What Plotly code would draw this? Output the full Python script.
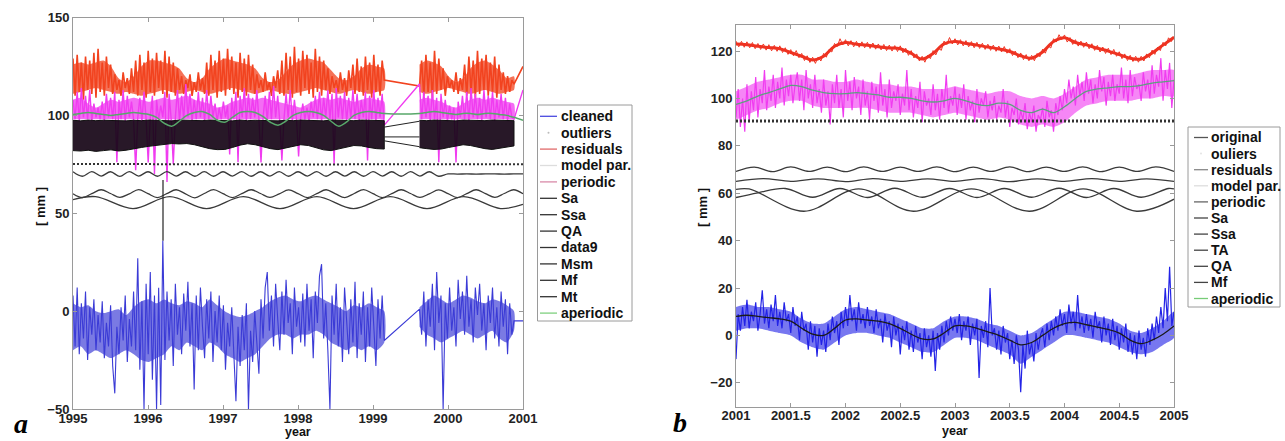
"""
Decomposition of a tide-gauge style series: panel a (1995-2001) and panel b (2001-2005).
Components are stacked with offsets, as in the original figure.
"""
import numpy as np
import plotly.graph_objects as go

W, H = 1285, 441

# ---------------- panel a data (mm) ----------------
A_SEG1_SPAN = (1995.0, 1999.15)
A_SEG2_SPAN = (1999.62, 2000.88)
A_END_YEAR = 2001.0

A_CLEANED_1 = [
    8, -18, 12, -22, 4, -14, 10, -25, 2, -12,
    6, -20, -2, -16, 5, -24, -6, -18, 3, -28,
    -42, -8, -22, 2, -15, 8, -26, -4, -18, 10,
    -20, 27, -30, 5, -50, 14, -22, 20, -35, 8,
    -50, 12, -48, 36, -25, 10, -15, 6, -28, 14,
    -12, 2, -22, 9, -10, 15, -18, 4, -40, 8,
    -20, 12, -8, -24, 6, -14, 10, -26, 0, -16,
    8, -20, 3, -30, -6, -18, 2, -24, -46, -8,
    -28, -2, -20, 4, -50, -10, -26, 0, -16, -32,
    6, -14, 12, 20, -10, 8, -18, 14, -4, -20,
    10, -12, 16, -6, 4, -22, 12, -8, 2, -16,
    9, -18, 14, -10, 6, -24, 10, -6, 18, 24,
    -14, 4, -20, -50, 8, -12, 14, -18, 2, -26,
    12, -8, -22, 6, -16, 15, -24, 4, -12, 10,
    -26, 2, -18, 12, -10, -28, 6, -14, 8, -15,
]
A_CLEANED_2 = [
    1, -12, 10, -18, 6, -8, 14, -20, 20, -6,
    8, -50, 4, -14, 12, -10, 2, -18, 16, -4,
    10, -12, 18, -8, 6, -16, 12, -2, 14, -10,
    4, -20, 8, -6, 12, -14, 2, -18, 10, -8,
    6, -22, 4, -12, -5,
]
A_CLEANED_END = -5
# dense core of the cleaned series (roughly 0.1 yr steps)
A_CLEANED_CORE_TOP_1 = [4, 2, 3, 0, -1, 0, 1, -2, 2, 5, 6, 4, 6, 4, 3, 5, 4, 2, 6, 3,
                        0, -2, -3, -2, 0, 2, 5, 7, 8, 6, 5, 7, 8, 6, 4, 2, 0, 3, 2, 4, 2, 0]
A_CLEANED_CORE_BOT_1 = [-20, -18, -22, -20, -22, -24, -22, -20, -22, -25, -26, -24, -22, -18,
                        -20, -16, -18, -20, -16, -18, -22, -24, -26, -24, -22, -18, -14, -12,
                        -12, -14, -12, -12, -10, -12, -16, -18, -20, -18, -20, -18, -20, -16]
A_CLEANED_CORE_TOP_2 = [2, 5, 8, 6, 4, 6, 8, 7, 5, 4, 6, 5, 3, 0]
A_CLEANED_CORE_BOT_2 = [-8, -12, -14, -16, -14, -12, -10, -12, -14, -12, -10, -14, -16, -10]

A_RESID_1 = [
    129, 110, 131, 112, 127, 108, 130, 113, 128, 111,
    132, 109, 134, 112, 127, 110, 130, 114, 126, 111,
    121, 113, 118, 110, 122, 114, 119, 111, 124, 112,
    128, 110, 131, 113, 127, 109, 133, 112, 129, 110,
    132, 114, 128, 111, 133, 109, 130, 112, 127, 110,
    124, 113, 120, 111, 118, 114, 121, 110, 117, 112,
    122, 113, 119, 111, 127, 110, 131, 113, 128, 109,
    133, 112, 129, 110, 134, 113, 130, 111, 127, 109,
    132, 112, 129, 110, 131, 113, 126, 111, 121, 114,
    118, 112, 122, 113, 117, 110, 120, 114, 123, 111,
    128, 110, 132, 113, 130, 109, 135, 112, 129, 110,
    133, 114, 131, 111, 127, 109, 134, 112, 130, 110,
    128, 113, 124, 111, 120, 114, 118, 112, 122, 113,
    119, 110, 123, 114, 126, 111, 129, 112, 125, 110,
    130, 113, 127, 109, 131, 112, 126, 110, 128, 118,
]
A_RESID_2 = [
    115, 128, 110, 131, 112, 127, 109, 133, 111, 129,
    113, 124, 110, 120, 114, 118, 112, 122, 111, 119,
    113, 126, 110, 130, 112, 128, 109, 133, 111, 129,
    113, 131, 110, 127, 112, 130, 109, 126, 113, 122,
    111, 120, 112, 118, 116,
]
A_RESID_END = 125
A_RESID_CORE_TOP_1 = [126, 127, 126, 127, 128, 125, 119, 117, 120, 125, 128, 128, 127, 126,
                      124, 119, 117, 119, 124, 127, 129, 128, 127, 126, 124, 119, 117, 118,
                      122, 126, 128, 129, 128, 127, 123, 119, 118, 120, 124, 126, 125, 124]
A_RESID_CORE_BOT_1 = [111, 112, 113, 114, 113, 112, 111, 112, 111, 110, 111, 112, 113, 112,
                      111, 112, 113, 112, 111, 112, 113, 114, 113, 112, 111, 112, 113, 112,
                      111, 111, 112, 113, 114, 113, 112, 111, 112, 113, 112, 111, 112, 113]
A_RESID_CORE_TOP_2 = [126, 128, 127, 125, 120, 117, 119, 124, 127, 128, 126, 123, 119, 120]
A_RESID_CORE_BOT_2 = [112, 111, 112, 113, 114, 113, 112, 111, 112, 113, 112, 111, 112, 113]

A_PERIODIC_1 = [
    108, 98, 112, 97, 114, 99, 110, 98, 113, 97,
    106, 99, 104, 98, 107, 97, 111, 99, 109, 98,
    112, 76, 108, 98, 113, 97, 110, 99, 107, 98,
    72, 99, 109, 97, 112, 98, 76, 99, 110, 70,
    108, 98, 105, 99, 112, 66, 111, 98, 75, 99,
    113, 97, 110, 98, 116, 99, 111, 97, 108, 98,
    112, 99, 109, 97, 113, 98, 110, 99, 106, 97,
    104, 98, 107, 99, 105, 80, 109, 98, 112, 76,
    110, 99, 114, 97, 111, 98, 109, 99, 113, 98,
    76, 99, 110, 97, 112, 98, 115, 99, 110, 97,
    77, 98, 111, 99, 113, 97, 108, 98, 79, 99,
    106, 98, 104, 97, 107, 99, 110, 98, 112, 97,
    109, 99, 113, 98, 111, 75, 114, 99, 110, 98,
    112, 97, 109, 99, 113, 98, 111, 97, 108, 99,
    112, 77, 110, 98, 113, 97, 109, 99, 111, 95,
]
A_PERIODIC_2 = [
    116, 98, 112, 99, 110, 97, 113, 98, 109, 76,
    111, 99, 108, 97, 105, 98, 104, 76, 107, 99,
    110, 98, 112, 97, 114, 99, 111, 98, 109, 97,
    113, 99, 110, 98, 112, 97, 108, 99, 111, 98,
    109, 97, 106, 99, 98,
]
A_PERIODIC_END = 113
A_PERIODIC_CORE_TOP_1 = [108, 109, 106, 104, 106, 108, 107, 108, 109, 108, 107, 108, 109, 108,
                         109, 110, 108, 107, 106, 104, 105, 107, 108, 109, 108, 109, 108, 107,
                         106, 105, 104, 106, 108, 109, 108, 109, 108, 107, 108, 109, 108, 107]
A_PERIODIC_CORE_BOT_1 = [98, 98, 98, 98, 98, 98, 98, 98, 98, 98, 98, 98, 98, 98,
                         98, 98, 98, 98, 98, 98, 98, 98, 98, 98, 98, 98, 98, 98,
                         98, 98, 98, 98, 98, 98, 98, 98, 98, 98, 98, 98, 98, 98]
A_PERIODIC_CORE_TOP_2 = [108, 109, 108, 107, 105, 104, 106, 108, 109, 108, 109, 108, 107, 106]
A_PERIODIC_CORE_BOT_2 = [98, 98, 98, 98, 98, 98, 98, 98, 98, 98, 98, 98, 98, 98]

# dense short-period band (Mt etc.), upper and lower envelope
A_BAND_TOP_1 = [
    97.5, 97.2, 97.6, 97.3, 97.5, 97.4, 97.6, 97.2, 97.5, 97.3,
    97.6, 97.4, 97.5, 97.2, 97.6, 97.4, 97.5, 97.3, 97.6, 97.5,
    97.4, 97.2, 97.6, 97.3, 97.5, 97.4, 97.6, 97.2, 97.5, 97.3,
    97.6, 97.4, 97.5, 97.2, 97.6, 97.4, 97.5, 97.3, 97.6, 97.5,
    97.4, 97.3,
]
A_BAND_BOT_1 = [
    82.0, 81.8, 82.2, 81.6, 82.0, 82.4, 81.8, 82.2, 82.8, 83.6,
    84.2, 84.6, 85.2, 85.6, 85.4, 85.6, 85.0, 84.0, 83.0, 82.5,
    82.6, 83.6, 84.8, 85.5, 85.0, 84.0, 83.0, 82.5, 83.2, 84.2,
    85.0, 84.6, 83.6, 82.4, 82.0, 82.8, 83.8, 84.6, 84.4, 83.6,
    83.0, 82.8,
]
A_BAND_TOP_2 = [97.5, 97.3, 97.6, 97.4, 97.5, 97.2, 97.6, 97.4, 97.5, 97.3, 97.6, 97.4, 97.5, 97.3]
A_BAND_BOT_2 = [83.5, 83.0, 82.6, 82.8, 83.6, 84.4, 85.0, 84.6, 83.8, 83.0, 82.6, 83.0, 83.8, 84.4]
A_GAP_LEFT = [94, 87, 89]
A_GAP_RIGHT = [97, 84, 89]

A_APERIODIC_1 = [
    100.5, 101, 101.5, 101, 100.5, 100, 100.5, 101, 101.5, 101,
    100.5, 99, 96, 94.5, 97, 100, 101.5, 102, 100.5, 97.5,
    96.5, 99, 101.5, 102, 101.5, 99.5, 96.5, 95, 97, 100,
    101.5, 102, 101.5, 100, 97, 94.5, 96.5, 100, 101.5, 102,
    101.5, 101,
]
A_APERIODIC_2 = [101, 101.5, 102, 101.5, 101, 100.5, 101, 101, 100.5, 101, 101, 100.5, 100, 99]
A_APERIODIC_END = 97.5

A_MF = [75.2, 75.0, 75.1, 74.9, 75.0, 75.1, 75.0]
A_QA = [
    71.2, 68.9, 71.3, 69.0, 71.2, 68.8, 71.3, 69.0, 71.2, 68.9,
    71.3, 69.0, 71.2, 68.9, 71.3, 68.9, 71.2, 69.0, 71.3, 68.9,
    71.2, 69.0, 71.3, 68.9, 71.2, 69.0, 71.3, 68.9, 71.2, 69.0,
    71.2, 68.9, 71.3, 69.0, 71.2, 68.9, 71.3, 69.0, 71.2, 68.9,
    70.1, 70.0, 70.1, 70.0, 70.1, 70.1, 70.0, 70.1, 70.1,
]
A_SSA = [
    60.0, 58.0, 60.0, 62.0, 60.1, 58.1, 59.9, 62.1, 60.0, 58.0,
    60.0, 62.0, 59.9, 57.9, 60.1, 62.1, 60.0, 58.0, 60.0, 62.0,
    60.1, 58.1, 59.9, 61.9, 60.0, 58.0, 60.0, 62.0, 59.9, 58.0,
    60.1, 62.1, 60.0, 58.0, 60.0, 62.0, 60.1, 58.1, 59.9, 61.9,
    60.0, 58.0, 60.0, 62.0, 60.0, 58.1, 60.1, 62.0, 60.0,
]
A_SA_YEARS = [1995.0, 1995.3, 1995.8, 1996.29, 1996.78, 1997.27, 1997.76, 1998.25,
              1998.74, 1999.23, 1999.72, 2000.21, 2000.7, 2001.0]
A_SA = [57.0, 58.5, 52.4, 58.5, 52.4, 58.5, 52.4, 58.5, 52.4, 58.5, 52.4, 58.5, 52.4, 54.5]
A_OUTLIER_YEAR = 1996.2
A_OUTLIER_SPAN = [67, 36]

A_LEGEND = ["cleaned", "outliers", "residuals", "model par.", "periodic", "Sa", "Ssa",
            "QA", "data9", "Msm", "Mf", "Mt", "aperiodic"]

# ---------------- panel b data (mm) ----------------
B_SPAN = (2001.0, 2005.0)

B_ORIGINAL = [
    -10, 9, 2, 12, 4, 15, 3, 10, 6, 14, 2, 9, 19, 5, 11, 3, 13, 6, 17, 4,
    10, 3, 14, 6, 9, 1, 12, 4, 8, -2, 10, 2, 5, -6, 6, -3, 4, -9, 3, -4,
    2, -7, 5, -2, 8, 1, 6, -4, 10, 3, 12, 4, 17, 6, 11, 2, 14, 5, 9, 3,
    12, 4, 8, 1, 11, 3, 7, -3, 9, 2, 6, -5, 8, 0, 5, -8, 4, -2, 6, -6,
    2, -7, 4, -3, 1, -10, 3, -5, 0, -9, 2, -15, 1, -6, 4, -3, 6, 0, 8, 2,
    7, 1, 9, -2, 6, 2, 8, -4, 5, 0, 7, -18, 4, -1, 6, -5, 20, 0, 3, -6,
    2, -8, 4, -3, 1, -10, -2, -12, 0, -6, -24, -4, -14, 2, -8, -3, -11, 1, -6, 0,
    3, -5, 5, -2, 6, 0, 8, 2, 11, 4, 9, 1, 13, 5, 10, 2, 17, 3, 8, 1,
    9, 2, 7, -1, 10, 3, 6, -3, 8, 0, 5, -4, 7, -2, 4, -6, 3, -3, 5, -7,
    1, -8, 0, -10, 2, -6, -1, -9, 3, -4, 5, -2, 8, 1, 12, 3, 20, 6, 29, 4,
    10,
]
B_ORIGINAL_CORE_TOP = [12, 13, 12, 12, 11, 10, 7, 5, 5, 8, 11, 12, 11, 10, 9, 7, 5, 3, 3, 6,
                       8, 8, 7, 5, 4, 2, 0, 1, 4, 7, 10, 10, 9, 8, 7, 5, 2, 1, 3, 6, 10]
B_ORIGINAL_CORE_BOT = [2, 3, 3, 2, 1, 0, -3, -5, -6, -3, 0, 1, 1, 0, -1, -3, -5, -7, -7, -4,
                       -1, -1, -2, -4, -6, -8, -12, -9, -6, -3, 0, 0, -1, -2, -3, -5, -7, -8,
                       -7, -4, -1]
B_MODEL = [
    8, 8.5, 8, 7.5, 7, 6, 3, 0.5, 0, 3,
    6.5, 7, 6.5, 6, 5, 3, 0.5, -1.5, -1.5, 1,
    4, 4, 3, 1.5, 0, -2, -4, -3, 0, 3,
    5, 5.5, 4.5, 3.5, 2.5, 1, -2, -3.5, -2, 0.5,
    4,
]
B_PERIODIC = [
    92, 104, 88, 100, 86, 106, 90, 103, 95, 109, 92, 104, 98, 112, 95, 105, 99, 110, 96, 107,
    100, 113, 97, 108, 101, 110, 98, 106, 111, 99, 108, 95, 112, 100, 106, 96, 110, 98, 104, 94,
    108, 97, 103, 89, 106, 98, 110, 96, 104, 92, 112, 99, 107, 95, 109, 100, 105, 93, 108, 97,
    103, 91, 107, 99, 105, 94, 111, 97, 104, 92, 108, 96, 103, 99, 106, 93, 102, 97, 112, 95,
    104, 92, 101, 96, 107, 90, 103, 97, 100, 93, 106, 95, 102, 91, 104, 96, 110, 94, 101, 97,
    105, 93, 102, 96, 106, 91, 101, 95, 99, 90, 104, 94, 100, 97, 103, 92, 99, 95, 101, 91,
    97, 94, 104, 92, 99, 88, 96, 93, 100, 89, 95, 91, 98, 87, 94, 90, 97, 86, 93, 91,
    96, 88, 99, 92, 95, 86, 98, 93, 101, 95, 104, 98, 108, 100, 105, 97, 110, 101, 107, 99,
    111, 102, 108, 98, 106, 100, 112, 103, 109, 97, 107, 101, 110, 99, 106, 102, 113, 100, 108, 98,
    112, 101, 109, 104, 106, 99, 111, 103, 108, 100, 114, 102, 110, 105, 117, 99, 112, 104, 115, 96,
    108,
]
B_PERIODIC_CORE_TOP = [103, 105, 107, 108, 109, 110, 110, 108, 108, 107, 107, 108, 107, 106,
                       106, 105, 105, 104, 104, 104, 105, 104, 103, 102, 103, 103, 101, 100,
                       101, 100, 102, 105, 108, 109, 110, 110, 110, 111, 112, 112, 112]
B_PERIODIC_CORE_BOT = [91, 93, 95, 96, 98, 99, 99, 97, 96, 96, 96, 96, 96, 95, 94, 94, 94, 93,
                       92, 93, 94, 93, 92, 91, 92, 91, 89, 88, 89, 88, 90, 94, 97, 98, 99, 99,
                       99, 100, 100, 101, 101]
B_APERIODIC = [
    97.5, 99, 101, 102.5, 104, 105.5, 105, 103.5, 102.5, 102,
    102, 102.5, 102, 101.5, 100.5, 100.5, 100, 99, 98.5, 99,
    100, 99, 97.5, 97, 98, 97.5, 95, 94, 95.5, 94,
    96.5, 100, 103, 104, 104.5, 105, 105, 105.5, 106.5, 107,
    107.5,
]
B_RESID = [
    124.2, 121.8, 124.1, 121.6, 123.9, 121.4, 123.6, 121.0, 123.2, 120.7,
    123.0, 120.4, 122.7, 120.1, 122.4, 119.9, 122.2, 119.4, 121.4, 118.6,
    120.6, 118.0, 120.2, 117.2, 119.0, 116.0, 118.0, 115.2, 117.4, 114.8,
    117.5, 115.8, 119.0, 117.4, 120.7, 119.6, 123.2, 122.0, 125.2, 122.6,
    124.8, 122.2, 124.4, 121.8, 124.1, 121.6, 123.9, 121.4, 123.7, 121.1,
    123.4, 120.8, 123.0, 120.5, 122.8, 120.2, 122.5, 120.0, 122.3, 119.8,
    122.2, 119.3, 121.2, 118.2, 120.2, 117.1, 118.8, 115.8, 117.8, 115.3,
    118.2, 116.8, 120.2, 118.4, 121.2, 120.3, 124.2, 122.8, 125.7, 123.0,
    125.2, 122.6, 124.8, 122.2, 124.4, 121.8, 124.0, 121.4, 123.7, 121.1,
    123.3, 120.7, 122.9, 120.3, 122.5, 119.9, 122.1, 119.6, 121.9, 119.1,
    121.0, 118.1, 120.0, 117.2, 119.2, 116.4, 118.5, 115.9, 118.2, 115.9,
    119.0, 117.6, 120.8, 119.1, 122.2, 121.3, 125.2, 123.8, 126.9, 124.8,
    126.8, 123.8, 125.7, 122.8, 124.8, 122.1, 124.2, 121.6, 123.8, 121.0,
    123.1, 120.3, 122.4, 119.6, 121.7, 119.0, 121.2, 118.5, 120.7, 117.8,
    119.7, 116.8, 118.8, 116.0, 118.2, 115.6, 117.8, 115.3, 117.8, 115.8,
    118.8, 117.2, 120.4, 118.6, 121.6, 120.2, 123.7, 122.2, 125.6, 124.0,
    126.2,
]
# slow part of the residual curve (0.1 yr steps)
B_RESID_SMOOTH = [
    123.0, 122.7, 122.0, 121.5, 121.0, 119.4, 117.8, 116.2, 117.8, 122.0,
    123.6, 122.9, 122.5, 121.8, 121.3, 121.0, 119.0, 116.6, 119.0, 123.0,
    124.0, 123.2, 122.5, 121.7, 120.9, 119.8, 118.0, 117.0, 119.6, 124.0,
    125.6, 123.6, 122.6, 121.2, 120.0, 118.5, 117.0, 116.6, 119.2, 122.5,
    125.8,
]
B_MF = [90.5, 90.4, 90.6, 90.5, 90.5]
B_TA = [69.2, 71.0, 69.1, 71.1, 69.2, 71.0, 69.1, 71.1, 69.2, 71.0, 69.2, 71.1, 69.1,
        71.0, 69.2, 71.1, 69.1, 71.0, 69.2, 71.1, 69.1, 71.0, 69.2, 71.1, 69.2]
B_QA = [65.0, 66.2, 65.0, 66.1, 64.9, 66.2, 65.0, 66.1, 65.0, 66.2, 64.9, 66.1, 65.0, 66.2, 65.0, 66.1, 65.0]
B_SSA_YEARS = [2001.0, 2001.2, 2001.45, 2001.7, 2001.95, 2002.2, 2002.45, 2002.7, 2002.95,
               2003.2, 2003.45, 2003.7, 2003.95, 2004.2, 2004.45, 2004.7, 2004.95, 2005.0]
B_SSA = [58.2, 60.2, 62.0, 58.3, 62.0, 58.2, 62.1, 58.3, 62.0, 58.2, 62.0, 58.3, 62.1,
         58.2, 62.0, 58.3, 62.0, 61.8]
B_SA_YEARS = [2001.0, 2001.12, 2001.62, 2002.12, 2002.62, 2003.15, 2003.68, 2004.17, 2004.66, 2005.0]
B_SA = [61.6, 61.8, 52.4, 61.8, 52.4, 61.8, 52.4, 61.8, 52.4, 57.5]

B_LEGEND = ["original", "ouliers", "residuals", "model par.", "periodic", "Sa", "Ssa",
            "TA", "QA", "Mf", "aperiodic"]


def years(span, n):
    return np.linspace(span[0], span[1], n)


def px(x):
    return x / W


def py(y):
    return 1 - y / H


BOLD = dict(family="Liberation Sans, Arial, sans-serif", color="#111", weight="bold")
COMP = dict(color="#3a3a3a", width=1.3)

fig = go.Figure()


def add_core(span, top, bot, color, xa, ya):
    """Filled envelope for the densely sampled part of a series."""
    t = years(span, len(top))
    fig.add_trace(go.Scatter(x=np.concatenate([t, t[::-1]]), y=list(top) + list(bot)[::-1],
                             fill="toself", fillcolor=color, mode="lines",
                             line=dict(width=0, shape="spline", smoothing=0.6),
                             xaxis=xa, yaxis=ya))


# ---------------- panel a ----------------
a1 = years(A_SEG1_SPAN, len(A_CLEANED_1))
a2 = years(A_SEG2_SPAN, len(A_CLEANED_2))
a_x = np.concatenate([a1, a2, [A_END_YEAR]])

RED_A = "#f2431f"
MAG = "#f03cf0"
add_core(A_SEG1_SPAN, A_RESID_CORE_TOP_1, A_RESID_CORE_BOT_1, "rgba(242,67,31,0.75)", "x", "y")
add_core(A_SEG2_SPAN, A_RESID_CORE_TOP_2, A_RESID_CORE_BOT_2, "rgba(242,67,31,0.75)", "x", "y")
fig.add_trace(go.Scatter(x=a_x, y=A_RESID_1 + A_RESID_2 + [A_RESID_END], mode="lines",
                         line=dict(color=RED_A, width=1.6), xaxis="x", yaxis="y"))
add_core(A_SEG1_SPAN, A_PERIODIC_CORE_TOP_1, A_PERIODIC_CORE_BOT_1, "rgba(240,60,240,0.75)", "x", "y")
add_core(A_SEG2_SPAN, A_PERIODIC_CORE_TOP_2, A_PERIODIC_CORE_BOT_2, "rgba(240,60,240,0.75)", "x", "y")
fig.add_trace(go.Scatter(x=a_x, y=A_PERIODIC_1 + A_PERIODIC_2 + [A_PERIODIC_END], mode="lines",
                         line=dict(color=MAG, width=1.4), xaxis="x", yaxis="y"))

# short-period band drawn as a filled envelope for each data segment
for span, top, bot in [(A_SEG1_SPAN, A_BAND_TOP_1, A_BAND_BOT_1),
                       (A_SEG2_SPAN, A_BAND_TOP_2, A_BAND_BOT_2)]:
    t = years(span, len(top))
    fig.add_trace(go.Scatter(x=np.concatenate([t, t[::-1]]), y=top + bot[::-1],
                             fill="toself", fillcolor="rgba(24,6,24,0.93)", mode="lines",
                             line=dict(color="#111", width=1), xaxis="x", yaxis="y"))

gap_x, gap_y = [], []
for left, right in zip(A_GAP_LEFT, A_GAP_RIGHT):
    gap_x += [A_SEG1_SPAN[1], A_SEG2_SPAN[0], None]
    gap_y += [left, right, None]
fig.add_trace(go.Scatter(x=gap_x, y=gap_y, mode="lines", line=dict(color="#222", width=1),
                         xaxis="x", yaxis="y"))

ap_x = np.concatenate([years(A_SEG1_SPAN, len(A_APERIODIC_1)),
                       years(A_SEG2_SPAN, len(A_APERIODIC_2)), [A_END_YEAR]])
fig.add_trace(go.Scatter(x=ap_x, y=A_APERIODIC_1 + A_APERIODIC_2 + [A_APERIODIC_END],
                         mode="lines", line=dict(color="#58a86a", width=1.5, shape="spline"),
                         xaxis="x", yaxis="y"))

a_full = (1995.0, A_END_YEAR)
fig.add_trace(go.Scatter(x=years(a_full, len(A_MF)), y=A_MF, mode="lines",
                         line=dict(color="#333", width=2, dash="2px,2px"), xaxis="x", yaxis="y"))
fig.add_trace(go.Scatter(x=years(a_full, len(A_QA)), y=A_QA, mode="lines",
                         line=dict(COMP, shape="spline"), xaxis="x", yaxis="y"))
fig.add_trace(go.Scatter(x=years(a_full, len(A_SSA)), y=A_SSA, mode="lines",
                         line=dict(COMP, shape="spline"), xaxis="x", yaxis="y"))
fig.add_trace(go.Scatter(x=A_SA_YEARS, y=A_SA, mode="lines",
                         line=dict(COMP, shape="spline"), xaxis="x", yaxis="y"))
fig.add_trace(go.Scatter(x=[A_OUTLIER_YEAR] * 2, y=A_OUTLIER_SPAN, mode="lines",
                         line=dict(color="#222", width=1.2), xaxis="x", yaxis="y"))

add_core(A_SEG1_SPAN, A_CLEANED_CORE_TOP_1, A_CLEANED_CORE_BOT_1, "rgba(59,59,214,0.68)", "x", "y")
add_core(A_SEG2_SPAN, A_CLEANED_CORE_TOP_2, A_CLEANED_CORE_BOT_2, "rgba(59,59,214,0.68)", "x", "y")
fig.add_trace(go.Scatter(x=a_x, y=A_CLEANED_1 + A_CLEANED_2 + [A_CLEANED_END], mode="lines",
                         line=dict(color="#3b3bd6", width=1.1), xaxis="x", yaxis="y"))

# ---------------- panel b ----------------
fig.add_trace(go.Scatter(x=years(B_SPAN, len(B_RESID_SMOOTH)), y=B_RESID_SMOOTH, mode="lines",
                         line=dict(color="#ee3322", width=3, shape="spline"),
                         xaxis="x2", yaxis="y2"))
fig.add_trace(go.Scatter(x=years(B_SPAN, len(B_RESID)), y=B_RESID, mode="lines",
                         line=dict(color="#ee3322", width=1), xaxis="x2", yaxis="y2"))
add_core(B_SPAN, B_PERIODIC_CORE_TOP, B_PERIODIC_CORE_BOT, "rgba(240,60,240,0.62)", "x2", "y2")
fig.add_trace(go.Scatter(x=years(B_SPAN, len(B_PERIODIC)), y=B_PERIODIC, mode="lines",
                         line=dict(color=MAG, width=1.2), xaxis="x2", yaxis="y2"))
fig.add_trace(go.Scatter(x=years(B_SPAN, len(B_APERIODIC)), y=B_APERIODIC, mode="lines",
                         line=dict(color="#5f9f80", width=1.3, shape="spline"),
                         xaxis="x2", yaxis="y2"))
fig.add_trace(go.Scatter(x=years(B_SPAN, len(B_MF)), y=B_MF, mode="lines",
                         line=dict(color="#333", width=3, dash="2px,2px"), xaxis="x2", yaxis="y2"))
fig.add_trace(go.Scatter(x=years(B_SPAN, len(B_TA)), y=B_TA, mode="lines",
                         line=dict(COMP, shape="spline"), xaxis="x2", yaxis="y2"))
fig.add_trace(go.Scatter(x=years(B_SPAN, len(B_QA)), y=B_QA, mode="lines",
                         line=dict(COMP, shape="spline"), xaxis="x2", yaxis="y2"))
fig.add_trace(go.Scatter(x=B_SSA_YEARS, y=B_SSA, mode="lines",
                         line=dict(COMP, shape="spline"), xaxis="x2", yaxis="y2"))
fig.add_trace(go.Scatter(x=B_SA_YEARS, y=B_SA, mode="lines",
                         line=dict(COMP, shape="spline"), xaxis="x2", yaxis="y2"))
add_core(B_SPAN, B_ORIGINAL_CORE_TOP, B_ORIGINAL_CORE_BOT, "rgba(35,35,230,0.62)", "x2", "y2")
fig.add_trace(go.Scatter(x=years(B_SPAN, len(B_ORIGINAL)), y=B_ORIGINAL, mode="lines",
                         line=dict(color="#2323e6", width=1.2), xaxis="x2", yaxis="y2"))
fig.add_trace(go.Scatter(x=years(B_SPAN, len(B_MODEL)), y=B_MODEL, mode="lines",
                         line=dict(color="#1a1a1a", width=1.3, shape="spline"),
                         xaxis="x2", yaxis="y2"))

# ---------------- axes ----------------
axis_common = dict(showgrid=False, zeroline=False, showline=True, linecolor="#9a9a9a",
                   linewidth=1, mirror="ticks", ticks="inside", ticklen=4, tickcolor="#9a9a9a",
                   automargin=False, tickfont=dict(BOLD, size=13, color="#222"))

fig.update_layout(
    width=W, height=H, autosize=False, showlegend=False,
    margin=dict(l=0, r=0, t=0, b=0, autoexpand=False),
    paper_bgcolor="white", plot_bgcolor="white",
    xaxis=dict(axis_common, domain=[px(73), px(523)], range=[1995, 2001], anchor="y",
               ticklabelstandoff=-3,
               tickvals=list(range(1995, 2002)), ticktext=[str(v) for v in range(1995, 2002)]),
    yaxis=dict(axis_common, domain=[py(409), py(17.5)], range=[-50, 150], anchor="x",
               tickvals=[-50, 0, 50, 100, 150]),
    xaxis2=dict(axis_common, domain=[px(736), px(1174)], range=[2001, 2005], anchor="y2",
                ticklabelstandoff=-3,
                tickvals=[2001, 2001.5, 2002, 2002.5, 2003, 2003.5, 2004, 2004.5, 2005],
                ticktext=["2001", "2001.5", "2002", "2002.5", "2003", "2003.5", "2004",
                          "2004.5", "2005"]),
    yaxis2=dict(axis_common, domain=[py(406.5), py(25)], range=[-30, 131], anchor="x2",
                tickvals=[-20, 0, 20, 40, 60, 80, 100, 120]),
)

annotations = [
    dict(text="year", x=px(298), y=py(432), font=dict(BOLD, size=12.5)),
    dict(text="year", x=px(955), y=py(431), font=dict(BOLD, size=12.5)),
    dict(text="[ mm ]", x=px(40), y=py(207), textangle=-90, font=dict(BOLD, size=13)),
    dict(text="[ mm ]", x=px(702), y=py(207), textangle=-90, font=dict(BOLD, size=13)),
    dict(text="<i>a</i>", x=px(21), y=py(423),
         font=dict(family="Liberation Serif, Times New Roman, serif", size=28, color="#000",
                   weight="bold")),
    dict(text="<i>b</i>", x=px(680), y=py(422),
         font=dict(family="Liberation Serif, Times New Roman, serif", size=28, color="#000",
                   weight="bold")),
]
shapes = []

# ---------------- legends (drawn by hand to keep MATLAB's tight spacing) ----------------
A_LEG_STYLE = ["#4a4ae0", "dot:#bbbbbb", "#e06a6a", "#dddddd", "#d98aa8"] + ["#333333"] * 7 + ["#7fd07f"]
B_LEG_STYLE = ["#555555", "dot:#e4e4e4", "#888888", "#dddddd", "#666666"] + ["#444444"] * 5 + ["#77cc77"]


def draw_legend(names, styles, box, first_y, step, line_x, text_x):
    shapes.append(dict(type="rect", xref="paper", yref="paper", x0=px(box[0]), x1=px(box[1]),
                       y0=py(box[3]), y1=py(box[2]), line=dict(color="#9a9a9a", width=1),
                       fillcolor="white", layer="above"))
    for k, (name, style) in enumerate(zip(names, styles)):
        yc = first_y + k * step
        if style.startswith("dot:"):
            mid = (line_x[0] + line_x[1]) / 2
            shapes.append(dict(type="circle", xref="paper", yref="paper",
                               x0=px(mid - 1), x1=px(mid + 1), y0=py(yc + 1), y1=py(yc - 1),
                               fillcolor=style[4:], line=dict(width=0), layer="above"))
        else:
            shapes.append(dict(type="line", xref="paper", yref="paper", x0=px(line_x[0]),
                               x1=px(line_x[1]), y0=py(yc), y1=py(yc),
                               line=dict(color=style, width=1.3), layer="above"))
        annotations.append(dict(text=name, x=px(text_x), y=py(yc), xanchor="left",
                                font=dict(BOLD, size=14)))


draw_legend(A_LEGEND, A_LEG_STYLE, (537.5, 632, 105, 321), 116.3, 16.4, (540, 557), 559)
draw_legend(B_LEGEND, B_LEG_STYLE, (1188, 1280, 127, 307), 137.5, 16.1, (1194, 1208), 1209)

for ann in annotations:
    ann.setdefault("xref", "paper")
    ann.setdefault("yref", "paper")
    ann.setdefault("showarrow", False)
    ann.setdefault("xanchor", "center")
    ann.setdefault("yanchor", "middle")

fig.update_layout(annotations=annotations, shapes=shapes)

# the page body has a default 8px margin; drop it so the figure fills the window exactly
fig.write_html("out.html", config={"displayModeBar": False},
               post_script="document.body.style.margin='0';")
